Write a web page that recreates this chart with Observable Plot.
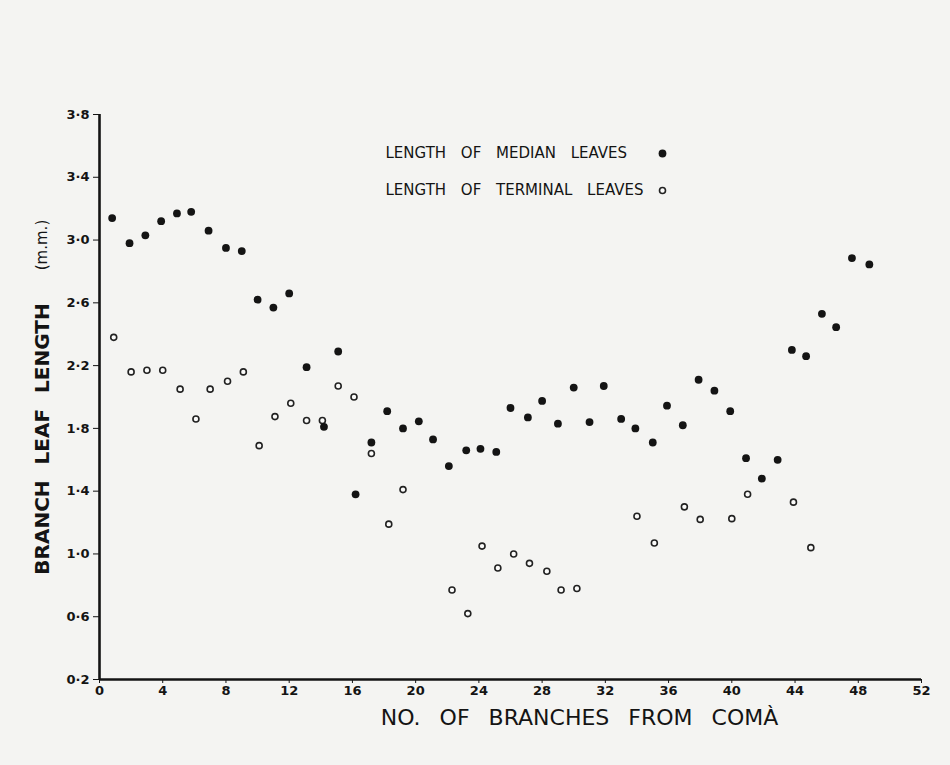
<!DOCTYPE html>
<html>
<head>
<meta charset="utf-8">
<script src="https://cdn.jsdelivr.net/npm/d3@7"></script>
<script src="https://cdn.jsdelivr.net/npm/@observablehq/plot@0.6"></script>
<style>
  html, body { margin: 0; padding: 0; background: #f4f4f2; }
  #chart { width: 950px; height: 765px; }
</style>
</head>
<body>
<div id="chart"></div>
<script>
// Length of median leaves (filled dots)
const medianX = [0.8,1.9,2.9,3.9,4.9,5.8,6.9,8.0,9.0,10.0,11.0,12.0,13.1,14.2,15.1,16.2,17.2,18.2,19.2,20.2,21.1,22.1,23.2,24.1,25.1,26.0,27.1,28.0,29.0,30.0,31.0,31.9,33.0,33.9,35.0,35.9,36.9,37.9,38.9,39.9,40.9,41.9,42.9,43.8,44.7,45.7,46.6,47.6,48.7];
const medianY = [3.14,2.98,3.03,3.12,3.17,3.18,3.06,2.95,2.93,2.62,2.57,2.66,2.19,1.81,2.29,1.38,1.71,1.91,1.80,1.845,1.73,1.56,1.66,1.67,1.65,1.93,1.87,1.975,1.83,2.06,1.84,2.07,1.86,1.80,1.71,1.945,1.82,2.11,2.04,1.91,1.61,1.48,1.60,2.30,2.26,2.53,2.445,2.885,2.845];

// Length of terminal leaves (open circles)
const terminalX = [0.9,2.0,3.0,4.0,5.1,6.1,7.0,8.1,9.1,10.1,11.1,12.1,13.1,14.1,15.1,16.1,17.2,18.3,19.2,22.3,23.3,24.2,25.2,26.2,27.2,28.3,29.2,30.2,34.0,35.1,37.0,38.0,40.0,41.0,43.9,45.0];
const terminalY = [2.38,2.16,2.17,2.17,2.05,1.86,2.05,2.10,2.16,1.69,1.875,1.96,1.85,1.85,2.07,2.00,1.64,1.19,1.41,0.77,0.62,1.05,0.91,1.00,0.94,0.89,0.77,0.78,1.24,1.07,1.30,1.22,1.225,1.38,1.33,1.04];

// Axis ticks and texts
const xTicks = [0,4,8,12,16,20,24,28,32,36,40,44,48,52];
const yTicks = [0.2,0.6,1.0,1.4,1.8,2.2,2.6,3.0,3.4,3.8];
const xLabel = "NO. OF BRANCHES FROM COMÀ";
const yLabel = "BRANCH LEAF LENGTH";
const yUnit = "(m.m.)";
const legendLabels = ["LENGTH OF MEDIAN LEAVES", "LENGTH OF TERMINAL LEAVES"];

const median = medianX.map((x, i) => ({x, y: medianY[i]}));
const terminal = terminalX.map((x, i) => ({x, y: terminalY[i]}));

const ink = "#141414";
const font = "DejaVu Sans, sans-serif";

const chart = Plot.plot({
  width: 950,
  height: 765,
  marginLeft: 99,
  marginRight: 29,
  marginTop: 114,
  marginBottom: 86,
  style: {background: "#f4f4f2", fontFamily: font, fontSize: "13px", fontWeight: "bold", color: ink},
  x: {domain: [0, 52], ticks: xTicks, tickSize: 4, tickPadding: 2, tickFormat: d => String(d), label: null},
  y: {domain: [0.2, 3.8], ticks: yTicks, tickSize: 6, tickPadding: 4, tickFormat: d => d.toFixed(1).replace(".", "·"), label: null},
  marks: [
    Plot.ruleY([yTicks[0]], {stroke: ink, strokeWidth: 2.6}),
    Plot.ruleX([xTicks[0]], {stroke: ink, strokeWidth: 2.6}),
    Plot.dot(terminal, {x: "x", y: "y", r: 3, stroke: "#222", strokeWidth: 1.6, fill: "#fbfbfa"}),
    Plot.dot(median, {x: "x", y: "y", r: 3.9, fill: ink, stroke: "none"}),
    // legend
    Plot.text([legendLabels[0]], {frameAnchor: "top-left", dx: 286, dy: 39, text: d => d, textAnchor: "start", lineAnchor: "middle", fontSize: 15, fontWeight: "normal", fill: ink}),
    Plot.text([legendLabels[1]], {frameAnchor: "top-left", dx: 286, dy: 76, text: d => d, textAnchor: "start", lineAnchor: "middle", fontSize: 15, fontWeight: "normal", fill: ink}),
    Plot.dot([legendLabels[0]], {frameAnchor: "top-left", dx: 563, dy: 39, r: 3.9, fill: ink, stroke: "none"}),
    Plot.dot([legendLabels[1]], {frameAnchor: "top-left", dx: 563, dy: 76, r: 3, stroke: "#222", strokeWidth: 1.6, fill: "#fbfbfa"}),
    // axis titles
    Plot.text([xLabel], {frameAnchor: "bottom", dx: 69, dy: 38, text: d => d, textAnchor: "middle", lineAnchor: "middle", fontSize: 22, fontWeight: "normal", fill: ink}),
    Plot.text([yLabel], {frameAnchor: "left", dx: -57, dy: 42, text: d => d, rotate: -90, textAnchor: "middle", lineAnchor: "middle", fontSize: 20, fontWeight: "bold", fill: ink}),
    Plot.text([yUnit], {frameAnchor: "left", dx: -57, dy: -152, text: d => d, rotate: -90, textAnchor: "middle", lineAnchor: "middle", fontSize: 15, fontWeight: "normal", fill: ink})
  ]
});

document.getElementById("chart").appendChild(chart);

// word spacing for hand-lettered look
d3.select(chart).selectAll("text").each(function() {
  const t = this.textContent;
  if (legendLabels.includes(t)) this.style.wordSpacing = "10px";
  else if (t === xLabel) this.style.wordSpacing = "12px";
  else if (t === yLabel) this.style.wordSpacing = "9px";
});
</script>
</body>
</html>
